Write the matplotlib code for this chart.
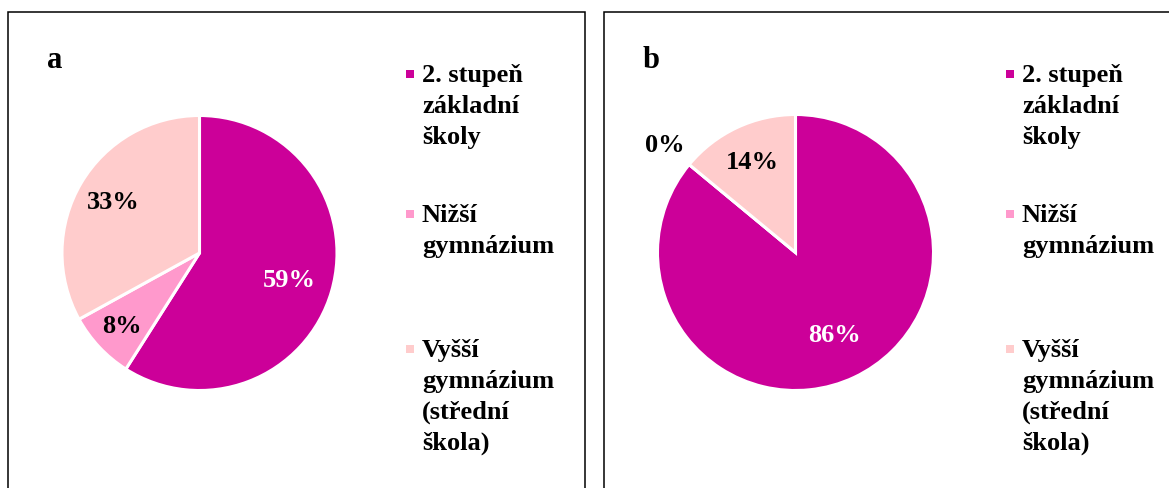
import matplotlib
matplotlib.use("Agg")
import matplotlib.pyplot as plt
import numpy as np
from matplotlib.patches import Rectangle

### DATA
categories = ["2. stupeň\nzákladní\nškoly", "Nižší\ngymnázium", "Vyšší\ngymnázium\n(střední\nškola)"]
colors = ["#CC0099", "#FF99CC", "#FFCCCC"]
values_a = [59, 8, 33]
values_b = [86, 0, 14]
# label distance (fraction of radius) and text colour for each slice label
label_dist_a = [0.68, 0.77, 0.73]
label_dist_b = [0.66, 1.23, 0.73]
label_color_a = ["white", "black", "black"]
label_color_b = ["white", "black", "black"]

W, H = 1169, 489
plt.rcParams['font.family'] = ['Liberation Serif', 'DejaVu Serif']
fig = plt.figure(figsize=(W / 100, H / 100), dpi=100)

def px_axes(cx, cy, r):
    # axes box in pixel coords (y from top) -> figure fraction
    return fig.add_axes([(cx - r) / W, (H - cy - r) / H, 2 * r / W, 2 * r / H])

def draw_panel(x0, x1, letter, values, dists, lcolors, cx, cy, r, leg_x):
    # panel frame (bottom runs off the picture)
    fig.patches.append(Rectangle((x0 / W, -0.2), (x1 - x0) / W, (H - 13) / H + 0.2,
                                 transform=fig.transFigure, fill=False,
                                 edgecolor="black", linewidth=1.1))
    fig.text((x0 + 39) / W, 1 - 68 / H, letter, fontsize=22, fontweight="bold",
             va="baseline", ha="left")

    ax = px_axes(cx, cy, r)
    wedges, _ = ax.pie(values, colors=colors, startangle=90, counterclock=False,
                       radius=1, wedgeprops=dict(edgecolor="white", linewidth=2.2))
    ax.set_xlim(-1, 1)
    ax.set_ylim(-1, 1)
    for w, v, d, c in zip(wedges, values, dists, lcolors):
        mid = np.deg2rad((w.theta1 + w.theta2) / 2)
        ax.text(d * np.cos(mid), d * np.sin(mid), f"{v}%", ha="center", va="center",
                fontsize=19, fontweight="bold", color=c)

    # legend
    first_baselines = [82, 222, 357]
    for cat, col, yb in zip(categories, colors, first_baselines):
        fig.patches.append(Rectangle(((leg_x - 16) / W, 1 - (yb - 3) / H), 8 / W, 8 / H,
                                     transform=fig.transFigure, facecolor=col,
                                     edgecolor="none"))
        for i, line in enumerate(cat.split("\n")):
            fig.text(leg_x / W, 1 - (yb + 31 * i) / H, line, fontsize=19,
                     fontweight="bold", va="baseline", ha="left")

draw_panel(8, 585, "a", values_a, label_dist_a, label_color_a, 199.5, 254, 137.5, 422)
draw_panel(604, 1400, "b", values_b, label_dist_b, label_color_b, 795.5, 253.5, 138, 1022)

fig.savefig("out.png", dpi=100)
